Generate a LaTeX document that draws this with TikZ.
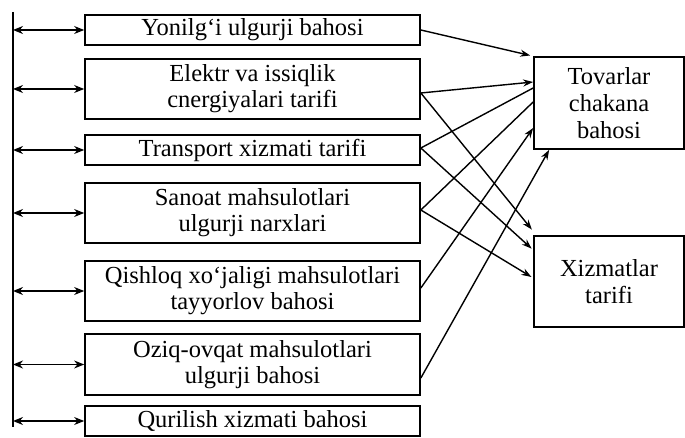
\documentclass[tikz,border=0pt]{standalone}
\usepackage{fontspec}
\setmainfont{Liberation Serif}
\usetikzlibrary{arrows.meta}
\begin{document}
\begin{tikzpicture}[x=1pt,y=-1pt,
  box/.style={draw,line width=1.7pt,inner sep=0pt,align=center,
    font=\fontsize{24.5}{26}\selectfont},
  lbox/.style={box,minimum width=335pt},
  rbox/.style={box,minimum width=150pt,font=\fontsize{24.5}{27}\selectfont},
  dbl/.style={line width=1.5pt,{Stealth[length=10pt,width=8pt]}-{Stealth[length=10pt,width=8pt]}},
  conn/.style={line width=1.4pt,-{Stealth[length=10pt,width=7pt]}},
  plain/.style={line width=1.4pt}]
\useasboundingbox (0,0) rectangle (685,438);
\node[lbox,minimum height=30pt] (b1) at (252.5,30) {Yonilg‘i ulgurji bahosi};
\node[lbox,minimum height=60pt] (b2) at (252.5,89) {Elektr va issiqlik\\cnergiyalari tarifi};
\node[lbox,minimum height=30pt] (b3) at (252.5,150) {Transport xizmati tarifi};
\node[lbox,minimum height=60pt] (b4) at (252.5,213) {Sanoat mahsulotlari\\ulgurji narxlari};
\node[lbox,minimum height=60pt] (b5) at (252.5,291) {Qishloq xo‘jaligi mahsulotlari\\tayyorlov bahosi};
\node[lbox,minimum height=61pt] (b6) at (252.5,364.5) {Oziq-ovqat mahsulotlari\\ulgurji bahosi};
\node[lbox,minimum height=30pt] (b7) at (252.5,421) {Qurilish xizmati bahosi};
\node[rbox,minimum height=92pt] (tov) at (609,103) {Tovarlar\\chakana\\bahosi};
\node[rbox,minimum height=91pt] (xiz) at (609,281.5) {Xizmatlar\\tarifi};
\coordinate (top) at (13,12);
\coordinate (bot) at (13,427);
\draw[line width=1.7pt] (top) -- (bot);
\foreach \b in {b1,b2,b3,b4,b5,b6,b7}
  \draw[dbl] (\b.west -| top) -- (\b.west);
% to Tovarlar
\draw[conn,shorten >=3pt] (b1.east) -- (tov.north west);
\draw[conn] ([yshift=-4pt]b2.east) -- ([yshift=21pt]tov.west);
\draw[plain] ([yshift=2pt]b3.east) -- ([yshift=15pt]tov.west);
\draw[plain] ([yshift=3pt]b4.east) -- ([yshift=1pt]tov.west);
\draw[conn] ([yshift=3pt]b5.east) -- ([yshift=-25pt]tov.west);
\draw[conn] ([yshift=-13.5pt]b6.east) -- ([xshift=16pt]tov.south west);
% to Xizmatlar
\draw[conn,shorten >=2pt] ([yshift=-4pt]b2.east) -- ([yshift=4pt]xiz.north west);
\draw[conn,shorten >=2pt] ([yshift=2pt]b3.east) -- ([yshift=31.5pt]xiz.west);
\draw[conn,shorten >=2pt] ([yshift=3pt]b4.east) -- ([yshift=3.5pt]xiz.west);
\end{tikzpicture}
\end{document}
